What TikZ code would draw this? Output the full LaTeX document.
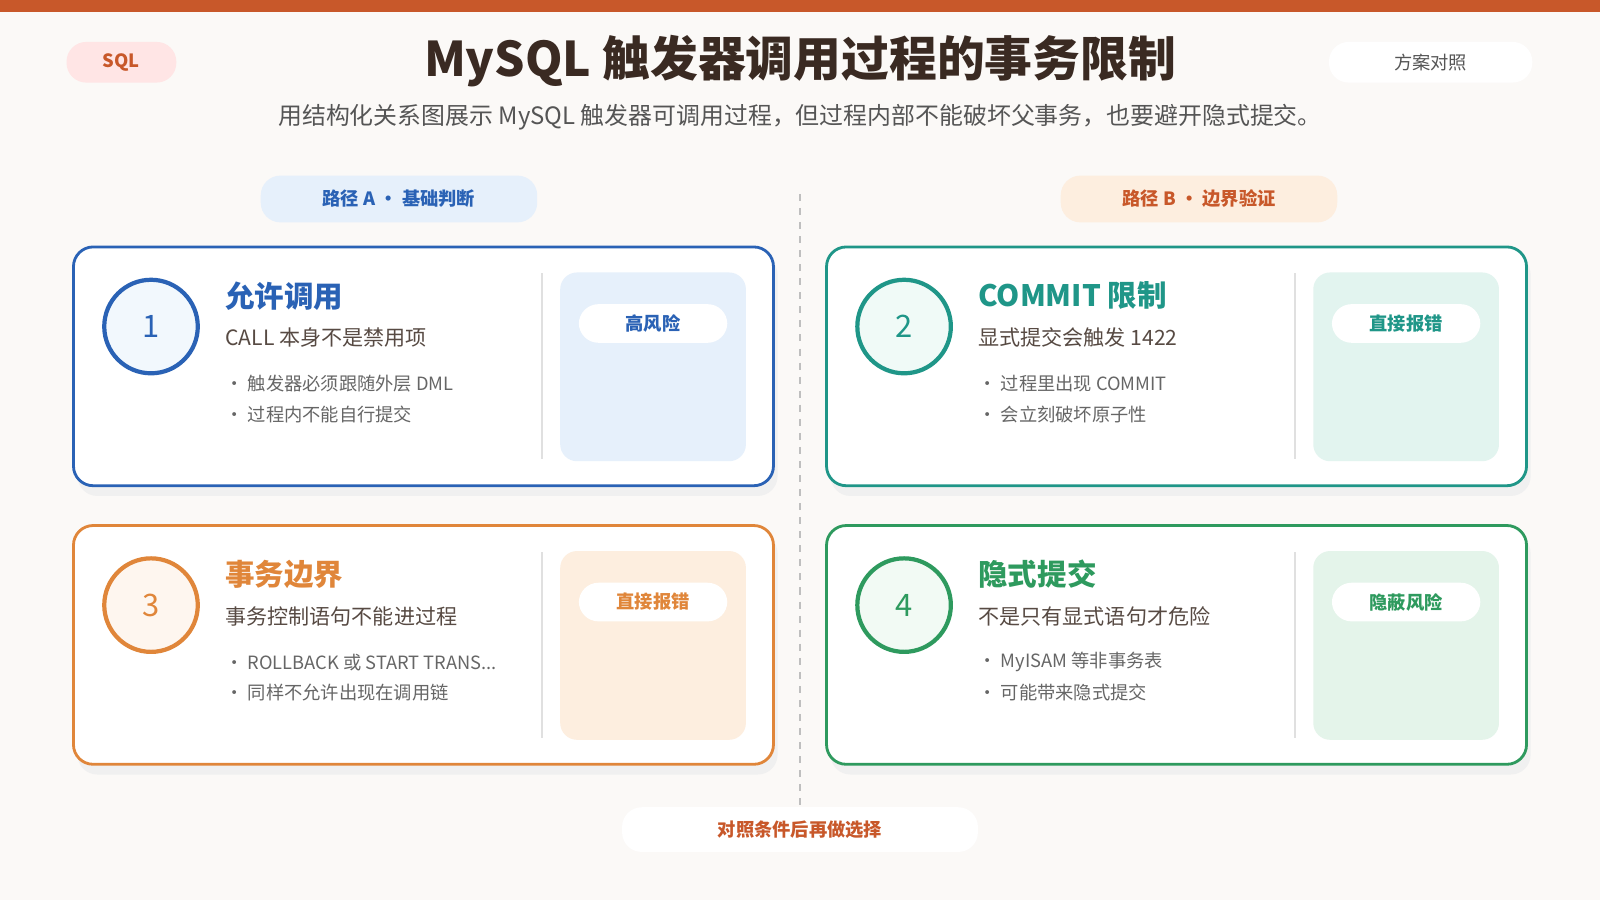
\documentclass[tikz,border=0pt]{standalone}
\usepackage{fontspec}
\setmainfont{Noto Sans CJK SC}
\usetikzlibrary{positioning}
\definecolor{bgc}{HTML}{FBF9F7}
\definecolor{topbar}{HTML}{C8582A}
\definecolor{titlec}{HTML}{3A2A22}
\definecolor{subc}{HTML}{555555}
\definecolor{blueA}{HTML}{2A62B5}\definecolor{blueL}{HTML}{E6F0FB}
\definecolor{tealB}{HTML}{1F9688}\definecolor{tealL}{HTML}{E2F4EF}
\definecolor{orgC}{HTML}{E0863A}\definecolor{orgL}{HTML}{FDEEDF}
\definecolor{grnD}{HTML}{2E9A5E}\definecolor{grnL}{HTML}{E4F4EA}
\def\px{0.7232pt}
\tikzset{
  pill/.style={rounded corners=14pt, minimum height=40*\px, font=\fontsize{13}{15}\selectfont\bfseries},
  card/.style={draw=#1, line width=2pt, fill=white, rounded corners=14pt},
  numring/.style={circle, draw=#1, line width=3pt, minimum size=92*\px, text=#1, font=\fontsize{22}{24}\selectfont},
  bullet/.style={anchor=west, text=subc!90, font=\fontsize{13}{15}\selectfont},
}
\begin{document}
\begin{tikzpicture}[x=0.02551cm,y=-0.02551cm]
\useasboundingbox (0,0) rectangle (1568,882);
\fill[bgc] (0,0) rectangle (1568,882);
\fill[topbar] (0,0) rectangle (1568,12);

% header
\node[pill, fill=red!10, text=topbar, minimum width=108*\px] (sql) at (119,61) {SQL};
\node[text=titlec, font=\fontsize{34}{38}\selectfont\bfseries] (title) at (784,60) {MySQL 触发器调用过程的事务限制};
\node[pill, fill=white, text=subc, minimum width=200*\px, font=\fontsize{13}{15}\selectfont] (mode) at (1402,61) {方案对照};
\node[text=subc, font=\fontsize{17}{19}\selectfont] (subtitle) at (784,115) {用结构化关系图展示 MySQL 触发器可调用过程，但过程内部不能破坏父事务，也要避开隐式提交。};

\node[pill, fill=blueL, text=blueA, minimum width=272*\px, minimum height=46*\px] (pathA) at (391,195) {路径 A · 基础判断};
\node[pill, fill=orgL, text=topbar, minimum width=272*\px, minimum height=46*\px] (pathB) at (1175,195) {路径 B · 边界验证};
\draw[black!25, line width=1.2pt, dash pattern=on 5pt off 5pt] (784,190) -- (784,790);

% cards
\foreach \cx/\cy/\col/\lt/\n/\ttl/\sub/\ba/\bb/\tag in {
  72/242/blueA/blueL/1/{允许调用}/{CALL 本身不是禁用项}/{触发器必须跟随外层 DML}/{过程内不能自行提交}/{高风险},
  810/242/tealB/tealL/2/{COMMIT 限制}/{显式提交会触发 1422}/{过程里出现 COMMIT}/{会立刻破坏原子性}/{直接报错},
  72/515/orgC/orgL/3/{事务边界}/{事务控制语句不能进过程}/{ROLLBACK 或 START TRANS...}/{同样不允许出现在调用链}/{直接报错},
  810/515/grnD/grnL/4/{隐式提交}/{不是只有显式语句才危险}/{MyISAM 等非事务表}/{可能带来隐式提交}/{隐蔽风险}}{
  \fill[black!6, rounded corners=14pt] (\cx+4,\cy+8) rectangle (\cx+690,\cy+244);
  \draw[card=\col] (\cx,\cy) rectangle (\cx+686,\cy+234);
  \node[numring=\col, fill=\lt!50] (num\n) at (\cx+76,\cy+78) {\n};
  \node[anchor=west, text=\col, font=\fontsize{21}{24}\selectfont\bfseries] (ttl\n) at (\cx+144,\cy+48) {\ttl};
  \node[anchor=west, text=titlec!85, font=\fontsize{15}{17}\selectfont] (sub\n) at (\cx+144,\cy+89) {\sub};
  \node[bullet] (ba\n) at (\cx+144,\cy+134) {• \ba};
  \node[bullet] (bb\n) at (\cx+144,\cy+164) {• \bb};
  \draw[black!12, line width=1pt] (\cx+459,\cy+26) -- (\cx+459,\cy+208);
  \fill[\lt, rounded corners=12pt] (\cx+477,\cy+25) rectangle (\cx+659,\cy+210);
  \node[pill, fill=white, text=\col, minimum width=146*\px, minimum height=38*\px] (tag\n) at (\cx+568,\cy+75) {\tag};
}

\node[pill, fill=white, text=topbar, minimum width=350*\px, minimum height=44*\px] (note) at (784,813) {对照条件后再做选择};
\end{tikzpicture}
\end{document}
